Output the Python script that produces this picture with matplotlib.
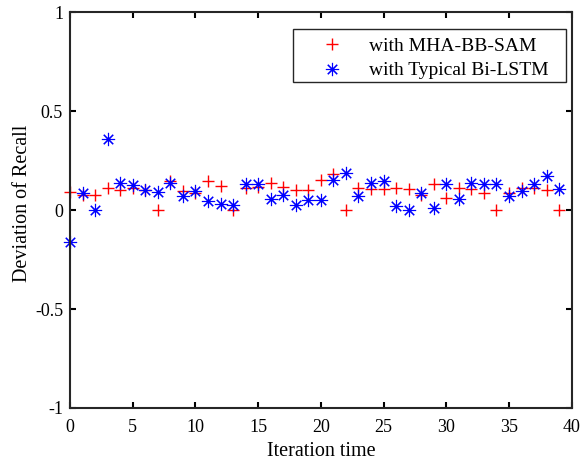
import numpy as np
import matplotlib.pyplot as plt
from matplotlib.patches import Rectangle

plt.rcParams['font.family'] = ['Liberation Serif', 'DejaVu Serif']

# Iteration index
iterations = list(range(40))

# Deviation of recall - MHA-BB-SAM (red +)
dev_mha = [0.092, 0.076, 0.076, 0.113, 0.100, 0.113, 0.100, 0.000, 0.148, 0.097,
           0.087, 0.150, 0.123, 0.000, 0.110, 0.118, 0.138, 0.118, 0.100, 0.100,
           0.155, 0.185, 0.000, 0.110, 0.105, 0.106, 0.113, 0.108, 0.076, 0.135,
           0.064, 0.110, 0.106, 0.087, 0.000, 0.087, 0.110, 0.110, 0.100, 0.000]

# Deviation of recall - Typical Bi-LSTM (blue *)
dev_bilstm = [-0.162, 0.087, 0.000, 0.362, 0.138, 0.130, 0.100, 0.092, 0.138, 0.070,
              0.097, 0.045, 0.034, 0.025, 0.135, 0.135, 0.056, 0.076, 0.025, 0.050,
              0.050, 0.155, 0.190, 0.070, 0.140, 0.150, 0.022, 0.000, 0.087, 0.013,
              0.135, 0.059, 0.140, 0.135, 0.135, 0.070, 0.098, 0.135, 0.172, 0.106]

fig = plt.figure(figsize=(5.82, 4.62), dpi=100)
ax = fig.add_axes([0.1203, 0.1169, 0.862, 0.8561])

ax.plot(iterations, dev_mha, linestyle='none', marker='+', color='red',
        markersize=9, markeredgewidth=1.0, label='with MHA-BB-SAM', clip_on=False)
ax.plot(iterations, dev_bilstm, linestyle='none', marker=(8, 2, 0), color='blue',
        markersize=9.5, markeredgewidth=0.8, label='with Typical Bi-LSTM', clip_on=False)

ax.set_xlim(0, 40)
ax.set_ylim(-1, 1)
ax.set_xticks([0, 5, 10, 15, 20, 25, 30, 35, 40])
ax.set_yticks([-1, -0.5, 0, 0.5, 1])
ax.set_yticklabels(['-1', '-0.5', '0', '0.5', '1'])
ax.tick_params(direction='in', top=True, right=True, length=4, width=1.5,
               labelsize=13)
ax.tick_params(axis='x', pad=8)
ax.tick_params(axis='y', pad=5)
for s in ax.spines.values():
    s.set_linewidth(1.5)
    s.set_color('#262626')

ax.set_xlabel('Iteration time', fontsize=14.5, labelpad=4)
ax.set_ylabel('Deviation of Recall', fontsize=14.5)
ax.yaxis.set_label_coords(-0.075, 0.518)

# legend box (MATLAB style, wide padding on the right)
ax.add_patch(Rectangle((0.4445, 0.824), 0.5441, 0.134, transform=ax.transAxes,
                       facecolor='white', edgecolor='#262626', linewidth=1.0,
                       zorder=4, clip_on=False))
leg = ax.legend(loc='upper left', bbox_to_anchor=(0.4836, 0.937), fontsize=14,
                frameon=False, borderaxespad=0, borderpad=0,
                handletextpad=0.9, labelspacing=0.35, handlelength=2.0)
leg.set_zorder(5)

fig.savefig('out.png', dpi=100)
